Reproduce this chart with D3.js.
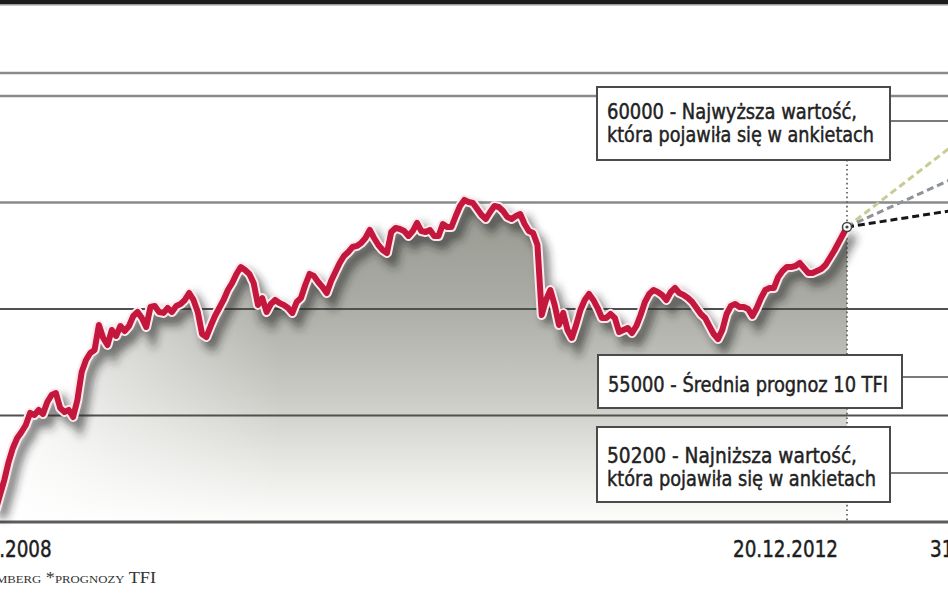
<!DOCTYPE html>
<html><head><meta charset="utf-8">
<script src="https://cdn.jsdelivr.net/npm/d3@7"></script>
<style>html,body{margin:0;padding:0;background:#fff;overflow:hidden}</style>
</head><body><svg id="chart" width="948" height="593"></svg>
<script>
// ---- data ----
const startDate = "2009-03-05";   // weekly WIG closes from this date
const lastDate = "2012-12-20";
const horizonDate = "2013-12-31";
const wig = [
 21130,22540,23940,25630,26950,27890,28450,29110,30240,30050,
 30520,30140,31270,31930,32110,30700,30330,30520,29860,31460,
 34090,35210,35870,36150,38500,37280,36620,38030,37470,38400,
 37930,38400,39340,39720,39160,38310,40190,40280,39720,39630,
 40090,39720,40280,40470,40850,41500,40850,39720,37650,37370,
 38400,39340,40090,40850,41780,42440,43290,43940,43660,43290,
 42440,40380,41030,39720,40470,40850,40560,40380,40090,39630,
 40660,41030,42250,43290,43100,42540,42070,41500,42630,43480,
 44320,44980,45350,45820,45920,46200,46670,47420,46670,46010,
 45540,45260,47230,47610,47510,47320,46860,47320,48080,47320,
 47230,47420,46860,46860,47980,47700,47700,48730,49670,50240,
 50050,49950,49390,48830,48450,49110,49670,49580,49200,48640,
 48450,48730,48920,47980,47320,47140,46010,39440,40850,41780,
 40380,38500,39630,38030,37280,38500,39910,40850,41410,40850,
 40090,39160,39160,39530,39160,37840,38030,38220,37750,38400,
 39440,40660,41410,41780,41600,41320,40850,41600,41970,41500,
 41320,41030,40660,40090,39530,39160,38400,37650,37180,38030,
 39530,40280,40470,40190,40190,40000,39340,40090,41030,41780,
 41970,41970,43010,43570,43940,43940,44040,44320,43850,43380,
 43380,43570,43760,44130,44790,45450,46200,46950,47700
];
const gridValues = [30000, 40000, 50000, 60000];
const forecastValues = [60000, 55000, 50200];
const forecastColors = ["#c8cb93", "#8e9398", "#161616"];
const forecastLabels = [
  ["60000 - Najwyższa wartość,", "która pojawiła się w ankietach"],
  ["55000 - Średnia prognoz 10 TFI"],
  ["50200 - Najniższa wartość,", "która pojawiła się w ankietach"]
];
const axisLabels = ["31.12.2008", "20.12.2012", "31.12.2013"];
const sourceText = "Źródło: Bloomberg *prognozy TFI";

// ---- layout ----
const W = 948, H = 593;
const FONT = "'DejaVu Sans Condensed','DejaVu Sans',sans-serif";
const svg = d3.select("#chart");
const parse = d3.timeParse("%Y-%m-%d");
const d0 = parse(startDate), dL = parse(lastDate), dH = parse(horizonDate);
const series = wig.map((v, i) => ({date: d3.timeDay.offset(d0, 7 * i), v}));

const x = d3.scaleTime().domain([d0, dL, dH]).range([-4.3, 847, 1017]);
const y = d3.scaleLinear().domain([20000, 60000]).range([522, 96]);
const baseY = y(20000);

const defs = svg.append("defs");
const g1 = defs.append("linearGradient").attr("id", "fillGrad")
  .attr("gradientUnits", "userSpaceOnUse").attr("x1", 0).attr("y1", 200).attr("x2", 0).attr("y2", baseY);
[[0, "#97988f"], [0.3, "#a9aaa3"], [0.6, "#c9cac4"], [0.85, "#ebebe8"], [1, "#fdfdfc"]]
  .forEach(([o, c]) => g1.append("stop").attr("offset", o).attr("stop-color", c));
const g2 = defs.append("linearGradient").attr("id", "leftFade")
  .attr("gradientUnits", "userSpaceOnUse").attr("x1", 0).attr("y1", 0).attr("x2", 280).attr("y2", 0);
g2.append("stop").attr("offset", 0).attr("stop-color", "#fff").attr("stop-opacity", 0.95);
g2.append("stop").attr("offset", 0.4).attr("stop-color", "#fff").attr("stop-opacity", 0.5);
g2.append("stop").attr("offset", 1).attr("stop-color", "#fff").attr("stop-opacity", 0);
const blur = defs.append("filter").attr("id", "blur").attr("x", "-10%").attr("y", "-10%").attr("width", "120%").attr("height", "130%");
blur.append("feGaussianBlur").attr("stdDeviation", 4);
defs.append("clipPath").attr("id", "areaClip").append("path")
  .attr("d", d3.area().x(d => x(d.date)).y0(baseY).y1(d => y(d.v))(series));

svg.append("rect").attr("width", W).attr("height", H).attr("fill", "#fff");
// top border
svg.append("rect").attr("x", 0).attr("y", 0).attr("width", W).attr("height", 4).attr("fill", "#1c1c1c");
svg.append("rect").attr("x", 0).attr("y", 4).attr("width", W).attr("height", 1.5).attr("fill", "#9a9a9a");
// frame line
svg.append("line").attr("x1", 0).attr("x2", W).attr("y1", 73).attr("y2", 73)
  .attr("stroke", "#8a8a8a").attr("stroke-width", 2.5);

// area
const area = d3.area().x(d => x(d.date)).y0(baseY).y1(d => y(d.v));
svg.append("path").attr("d", area(series)).attr("fill", "url(#fillGrad)");
svg.append("rect").attr("x", 0).attr("y", 0).attr("width", 300).attr("height", baseY)
  .attr("fill", "url(#leftFade)").attr("clip-path", "url(#areaClip)");

// gridlines
svg.append("g").selectAll("line").data(gridValues).join("line")
  .attr("x1", 0).attr("x2", W).attr("y1", d => y(d)).attr("y2", d => y(d))
  .attr("stroke", d => d >= 50000 ? "#8a8a8a" : "#505050")
  .attr("stroke-width", d => d >= 50000 ? 2.5 : 1.8);
// axis baseline
svg.append("line").attr("x1", 0).attr("x2", W).attr("y1", baseY).attr("y2", baseY)
  .attr("stroke", "#5c5c5c").attr("stroke-width", 3);

// dotted vertical at last date
svg.append("line").attr("x1", x(dL)).attr("x2", x(dL)).attr("y1", 100).attr("y2", baseY)
  .attr("stroke", "#555").attr("stroke-width", 1.6).attr("stroke-dasharray", "1.6,3");

// line with shadow & white outline
const line = d3.line().x(d => x(d.date)).y(d => y(d.v));
svg.append("path").attr("d", line(series)).attr("fill", "none")
  .attr("stroke", "#262626").attr("stroke-opacity", 0.6).attr("stroke-width", 10)
  .attr("transform", "translate(6,8)").attr("filter", "url(#blur)");
svg.append("path").attr("d", line(series)).attr("fill", "none")
  .attr("stroke", "#fbe9ec").attr("stroke-width", 10).attr("stroke-linejoin", "round");
svg.append("path").attr("d", line(series)).attr("fill", "none")
  .attr("stroke", "#c3173d").attr("stroke-width", 6).attr("stroke-linejoin", "round").attr("stroke-linecap", "round");

// forecast dashed lines
const last = series[series.length - 1];
svg.append("g").selectAll("line").data(forecastValues).join("line")
  .attr("x1", x(last.date)).attr("y1", y(last.v))
  .attr("x2", x(dH)).attr("y2", d => y(d))
  .attr("stroke", (d, i) => forecastColors[i]).attr("stroke-width", 3)
  .attr("stroke-dasharray", "7,4");

// marker
svg.append("circle").attr("cx", x(last.date)).attr("cy", y(last.v)).attr("r", 4.5)
  .attr("fill", "#fff").attr("stroke", "#444").attr("stroke-width", 1.5);
svg.append("circle").attr("cx", x(last.date)).attr("cy", y(last.v)).attr("r", 1.6).attr("fill", "#444");

// boxes
const boxes = [
  {x: 597, y: 87, w: 293, h: 73, cy: 121, base: [119, 142], len: [250, 267]},
  {x: 598, y: 355, w: 304, h: 53, cy: 377, base: [392], len: [280]},
  {x: 597, y: 427, w: 293, h: 75, cy: 473, base: [463, 486], len: [250, 269]}
];
boxes.forEach((b, i) => {
  svg.append("line").attr("x1", b.x + b.w).attr("x2", W).attr("y1", b.cy).attr("y2", b.cy)
    .attr("stroke", "#7a7a7a").attr("stroke-width", 2);
  svg.append("rect").attr("x", b.x).attr("y", b.y).attr("width", b.w).attr("height", b.h)
    .attr("fill", "#fff").attr("stroke", "#4a4a4a").attr("stroke-width", 2);
  forecastLabels[i].forEach((t, j) => {
    svg.append("text").attr("x", b.x + 10).attr("y", b.base[j]).text(t)
      .attr("font-family", FONT).attr("font-size", 22).attr("fill", "#222")
      .attr("stroke", "#222").attr("stroke-width", 0.45)
      .attr("textLength", b.len[j]).attr("lengthAdjust", "spacingAndGlyphs");
  });
});

// axis labels
const lab = [
  {t: axisLabels[0], x: x(d0) + 56, anchor: "end"},
  {t: axisLabels[1], x: x(dL) - 9, anchor: "end"},
  {t: axisLabels[2], x: x(dH) - 87, anchor: "start"}
];
lab.forEach(l => svg.append("text").attr("x", l.x).attr("y", 557).attr("text-anchor", l.anchor)
  .attr("font-family", FONT).attr("font-size", 23).attr("fill", "#1e1e1e")
  .attr("stroke", "#1e1e1e").attr("stroke-width", 0.45)
  .attr("textLength", 105).attr("lengthAdjust", "spacingAndGlyphs").text(l.t));

// source (wide small caps)
svg.append("text").attr("transform", "translate(156,583) scale(1.14,1)").attr("text-anchor", "end")
  .attr("font-family", "'Liberation Serif','DejaVu Serif',serif").attr("font-size", 16)
  .style("font-variant", "small-caps").attr("fill", "#333").text(sourceText);
</script></body></html>
